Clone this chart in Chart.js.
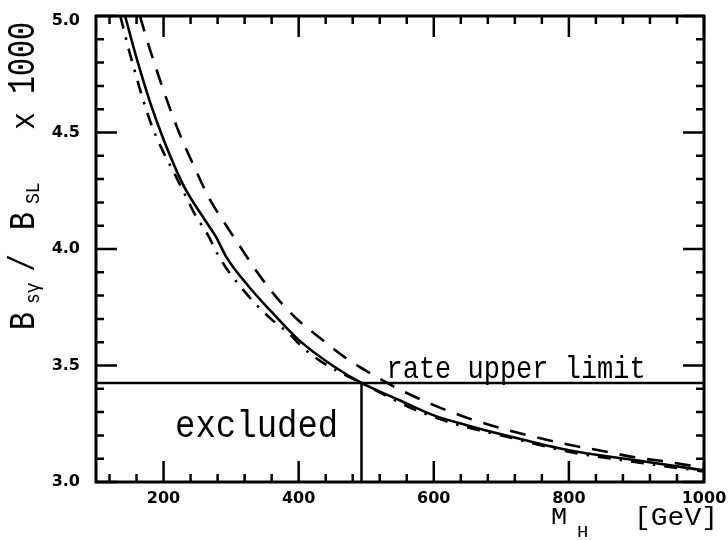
<!DOCTYPE html>
<html>
<head>
<meta charset="utf-8">
<script src="https://cdn.jsdelivr.net/npm/chart.js@4.4.1/dist/chart.umd.min.js"></script>
<style>
  html, body { margin: 0; padding: 0; background: #fff; }
  #wrap { width: 728px; height: 540px; }
</style>
</head>
<body>
<div id="wrap"><canvas id="bsgChart" width="728" height="540"></canvas></div>
<script>
// M_H [GeV] and B(s->gamma)/B_SL x 1000
const solidMH = [143, 160, 180, 200, 230, 260, 278, 293, 327, 360, 400, 450, 493, 550, 600, 650, 700, 800, 900, 1000];
const solidB  = [5.00, 4.82, 4.63, 4.47, 4.27, 4.13, 4.05, 3.965, 3.836, 3.73, 3.61, 3.50, 3.425, 3.35, 3.286, 3.243, 3.205, 3.136, 3.093, 3.05];

const dashedMH = [165, 180, 200, 222, 249, 268, 293, 317, 340, 369, 399, 433, 468, 507, 544, 600, 650, 700, 800, 850, 900, 950, 1000];
const dashedB  = [5.00, 4.855, 4.68, 4.507, 4.33, 4.215, 4.10, 3.994, 3.895, 3.786, 3.695, 3.615, 3.536, 3.465, 3.405, 3.33, 3.275, 3.23, 3.16, 3.133, 3.105, 3.085, 3.06];

const dashDotMH = [136, 150, 180, 199, 215, 231, 246, 266, 280, 290, 312, 335, 359, 386, 408, 438, 470, 500, 530, 568, 600, 630, 667, 700, 800, 900, 1000];
const dashDotB  = [5.00, 4.84, 4.55, 4.42, 4.33, 4.237, 4.151, 4.058, 3.978, 3.93, 3.845, 3.768, 3.70, 3.636, 3.572, 3.508, 3.458, 3.415, 3.37, 3.315, 3.28, 3.25, 3.222, 3.20, 3.13, 3.085, 3.045];

// experimental upper limit and the excluded mass
const limitMH = [100, 1000];
const limitB  = [3.425, 3.425];
const cutMH = [493, 493];
const cutB  = [3.0, 3.425];

// axis ticks
const xMajorTicks = [200, 400, 600, 800, 1000];
const xMinorTicks = [120, 160, 240, 280, 320, 360, 440, 480, 520, 560, 640, 680, 720, 760, 840, 880, 920, 960];
const yMajorTicks = [3.0, 3.5, 4.0, 4.5, 5.0];
const yMinorTicks = [3.1, 3.2, 3.3, 3.4, 3.6, 3.7, 3.8, 3.9, 4.1, 4.2, 4.3, 4.4, 4.6, 4.7, 4.8, 4.9];

const toPoints = (xs, ys) => xs.map((x, i) => ({ x: x, y: ys[i] }));

function stretchText(ctx, str, x, y, sy) {
    ctx.save();
    ctx.translate(x, y);
    ctx.scale(1, sy);
    ctx.fillText(str, 0, 0);
    ctx.restore();
}

// frame, inward ticks, tick labels and the text on the plot
const framePlugin = {
    id: 'frame',
    afterDatasetsDraw(chart) {
        const ctx = chart.ctx;
        const a = chart.chartArea;
        const xs = chart.scales.x, ys = chart.scales.y;
        ctx.save();
        ctx.strokeStyle = '#000';
        ctx.fillStyle = '#000';
        ctx.lineWidth = 3;
        ctx.lineCap = 'butt';
        ctx.strokeRect(a.left, a.top, a.right - a.left, a.bottom - a.top);

        ctx.lineWidth = 2.5;
        xs.ticks.forEach(t => {
            const px = xs.getPixelForValue(t.value);
            const len = xMajorTicks.includes(t.value) ? 21 : 8;
            ctx.beginPath();
            ctx.moveTo(px, a.bottom); ctx.lineTo(px, a.bottom - len);
            ctx.moveTo(px, a.top); ctx.lineTo(px, a.top + len);
            ctx.stroke();
        });
        ys.ticks.forEach(t => {
            const py = ys.getPixelForValue(t.value);
            const len = yMajorTicks.includes(t.value) ? 21 : 8;
            ctx.beginPath();
            ctx.moveTo(a.left, py); ctx.lineTo(a.left + len, py);
            ctx.moveTo(a.right, py); ctx.lineTo(a.right - len, py);
            ctx.stroke();
        });

        ctx.font = 'bold 16px "DejaVu Sans"';
        ctx.textBaseline = 'middle';
        ctx.textAlign = 'center';
        xMajorTicks.forEach(v => {
            ctx.fillText(String(v), xs.getPixelForValue(v), a.bottom + 17);
        });
        ctx.textAlign = 'right';
        yMajorTicks.forEach(v => {
            ctx.fillText(v.toFixed(1), a.left - 16, Math.max(ys.getPixelForValue(v), a.top + 5));
        });

        // annotations
        ctx.textAlign = 'left';
        ctx.textBaseline = 'alphabetic';
        ctx.font = '34px "Liberation Mono"';
        stretchText(ctx, 'excluded', xs.getPixelForValue(217), ys.getPixelForValue(3.195), 1.14);
        ctx.font = '27px "Liberation Mono"';
        stretchText(ctx, 'rate upper limit', xs.getPixelForValue(530), ys.getPixelForValue(3.445), 1.15);

        // x axis title
        ctx.font = '27px "Liberation Mono"';
        stretchText(ctx, 'M', 551, 524, 0.9);
        ctx.font = '19px "Liberation Mono"';
        stretchText(ctx, 'H', 577, 537, 0.9);
        ctx.font = '28px "Liberation Mono"';
        stretchText(ctx, '[GeV]', 634, 525, 0.95);

        // y axis title, rotated
        ctx.save();
        ctx.translate(34, 330);
        ctx.rotate(-Math.PI / 2);
        ctx.font = '30px "Liberation Mono"';
        stretchText(ctx, 'B', 0, 0, 1.2);
        stretchText(ctx, '/', 58, 0, 1.2);
        stretchText(ctx, 'B', 100, 0, 1.2);
        stretchText(ctx, 'x', 200, 0, 1.1);
        stretchText(ctx, '1000', 236, 0, 1.3);
        ctx.font = '18px "Liberation Mono"';
        stretchText(ctx, 'sγ', 26, 5, 1.1);
        stretchText(ctx, 'SL', 126, 5, 1.1);
        ctx.restore();

        ctx.restore();
    }
};

const lineStyle = { borderColor: '#000', borderWidth: 2.6, pointRadius: 0, fill: false, cubicInterpolationMode: 'monotone', borderCapStyle: 'butt' };

new Chart(document.getElementById('bsgChart'), {
    type: 'line',
    data: {
        datasets: [
            Object.assign({ label: 'solid', data: toPoints(solidMH, solidB) }, lineStyle),
            Object.assign({ label: 'dashed', data: toPoints(dashedMH, dashedB), borderDash: [16, 12] }, lineStyle),
            Object.assign({ label: 'dash-dot', data: toPoints(dashDotMH, dashDotB), borderDash: [13, 9, 2.5, 9] }, lineStyle),
            Object.assign({ label: 'limit', data: toPoints(limitMH, limitB) }, lineStyle, { borderWidth: 2.5, cubicInterpolationMode: 'default', tension: 0 }),
            Object.assign({ label: 'cut', data: toPoints(cutMH, cutB) }, lineStyle, { borderWidth: 2.5, cubicInterpolationMode: 'default', tension: 0 })
        ]
    },
    options: {
        responsive: false,
        animation: false,
        layout: { padding: { left: 96, top: 16, right: 24, bottom: 58 } },
        plugins: { legend: { display: false }, tooltip: { enabled: false } },
        scales: {
            x: {
                type: 'linear', min: 100, max: 1000,
                grid: { display: false, drawTicks: false },
                border: { display: false },
                ticks: { display: false },
                afterBuildTicks: s => { s.ticks = [...xMajorTicks, ...xMinorTicks].sort((p, q) => p - q).map(v => ({ value: v })); },
                afterFit: s => { s.height = 0; }
            },
            y: {
                type: 'linear', min: 3, max: 5,
                grid: { display: false, drawTicks: false },
                border: { display: false },
                ticks: { display: false },
                afterBuildTicks: s => { s.ticks = [...yMajorTicks, ...yMinorTicks].sort((p, q) => p - q).map(v => ({ value: v })); },
                afterFit: s => { s.width = 0; }
            }
        }
    },
    plugins: [framePlugin]
});
</script>
</body>
</html>
